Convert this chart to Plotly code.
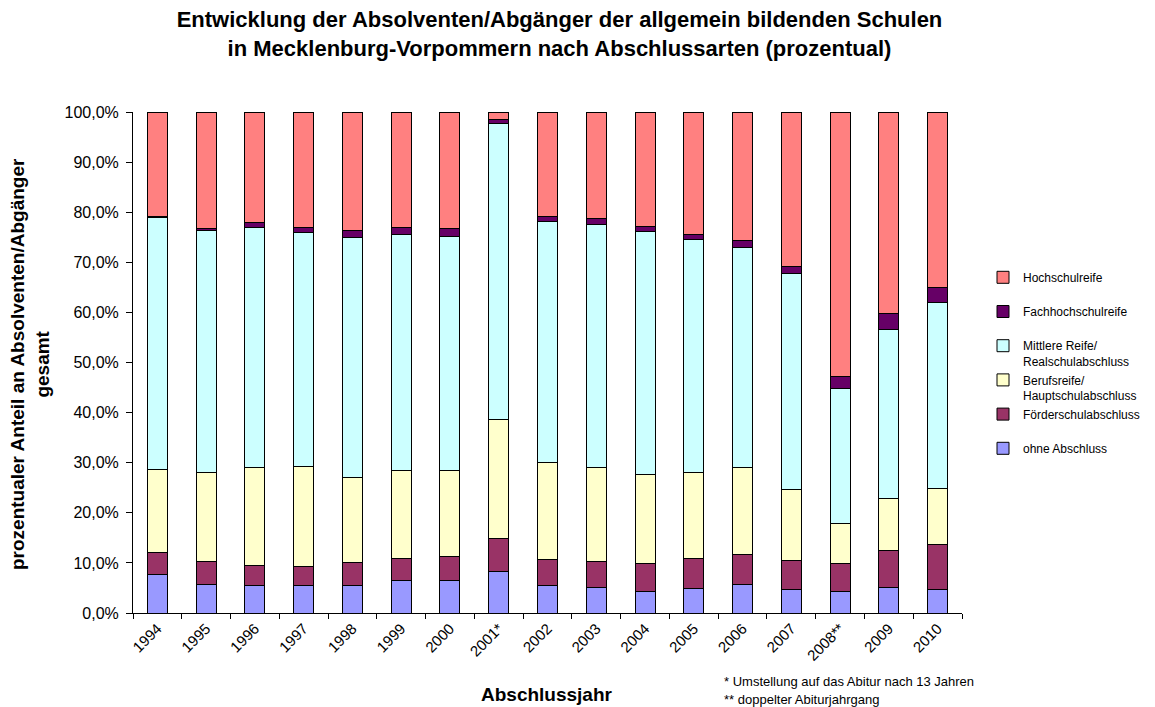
import plotly.graph_objects as go

# ─────────────────────────────────────────────────────────────────────────────
# DATA (Anteile in %)
# ─────────────────────────────────────────────────────────────────────────────

years = ['1994', '1995', '1996', '1997', '1998', '1999', '2000', '2001*', '2002',
         '2003', '2004', '2005', '2006', '2007', '2008**', '2009', '2010']

ohne_abschluss = [7.7, 5.7, 5.5, 5.5, 5.5, 6.5, 6.5, 8.3, 5.5,
                  5.1, 4.2, 4.8, 5.6, 4.7, 4.3, 5.0, 4.6]
foerderschule = [4.3, 4.6, 4.0, 3.8, 4.5, 4.4, 4.8, 6.5, 5.2,
                 5.2, 5.7, 6.0, 6.1, 5.8, 5.6, 7.4, 9.1]
berufsreife = [16.6, 17.8, 19.5, 20.0, 17.0, 17.6, 17.2, 23.9, 19.4,
               18.8, 17.8, 17.3, 17.4, 14.2, 7.9, 10.5, 11.2]
mittlere_reife = [50.4, 48.3, 47.9, 46.7, 48.0, 47.1, 46.6, 59.0, 48.0,
                  48.4, 48.4, 46.4, 43.8, 43.0, 27.1, 33.6, 37.0]
fachhochschulreife = [0.1, 0.4, 1.0, 1.0, 1.3, 1.4, 1.7, 0.8, 1.0,
                      1.2, 1.0, 1.1, 1.4, 1.4, 2.4, 3.3, 3.1]
hochschulreife = [20.9, 23.2, 22.1, 23.0, 23.7, 23.0, 23.2, 1.5, 20.9,
                  21.3, 22.9, 24.4, 25.7, 30.9, 52.7, 40.2, 35.0]

# legend labels: every entry takes two lines, like the Excel legend
series = [
    ('ohne Abschluss<br>\u00a0', ohne_abschluss, '#9999FF'),
    ('Förderschulabschluss<br>\u00a0', foerderschule, '#993366'),
    ('Berufsreife/<br>Hauptschulabschluss', berufsreife, '#FFFFCC'),
    ('Mittlere Reife/<br>Realschulabschluss', mittlere_reife, '#CCFFFF'),
    ('Fachhochschulreife<br>\u00a0', fachhochschulreife, '#660066'),
    ('Hochschulreife<br>\u00a0', hochschulreife, '#FF8080'),
]

FONT = 'Arial, Liberation Sans, sans-serif'

# the page body has an 8px margin, so the figure is 8px smaller than the window
W, H = 1147, 699

fig = go.Figure()
for name, vals, color in series:
    fig.add_trace(go.Bar(
        name=name, x=years, y=vals,
        marker=dict(color=color, line=dict(color='black', width=1)),
    ))

fig.update_layout(
    barmode='stack',
    bargap=0.59,
    width=W, height=H,
    paper_bgcolor='white', plot_bgcolor='white',
    separators=',.',
    font=dict(family=FONT, size=13, color='black'),
    margin=dict(l=125, r=193, t=104, b=94),
    title=dict(
        text='Entwicklung der Absolventen/Abgänger der allgemein bildenden Schulen<br>'
             'in Mecklenburg-Vorpommern nach Abschlussarten (prozentual)',
        font=dict(family=FONT, size=22, color='black', weight='bold'),
        xref='container', x=551.5 / W, xanchor='center',
        yref='container', y=1 - 19 / H, yanchor='middle',
    ),
    legend=dict(
        traceorder='reversed',
        xref='container', x=975 / W, xanchor='left',
        yref='container', y=1 - 255 / H, yanchor='top',
        valign='top',
        font=dict(family=FONT, size=12, color='black'),
        itemwidth=30,
    ),
    showlegend=True,
)

fig.update_yaxes(
    range=[0, 100], dtick=10,
    tickformat='.1f', ticksuffix='%',
    showgrid=False, zeroline=False,
    showline=True, linecolor='black', linewidth=1,
    ticks='outside', ticklen=6, tickcolor='black',
    ticklabelstandoff=4,
    tickfont=dict(size=16),
)
fig.update_xaxes(
    showgrid=False,
    showline=True, linecolor='black', linewidth=1,
    ticks='outside', ticklen=5, tickcolor='black', tickson='boundaries',
    tickangle=-45, tickfont=dict(size=15),
)

# Achsentitel und Fußnoten
fig.add_annotation(
    text='prozentualer Anteil an Absolventen/Abgänger<br>gesamt',
    textangle=-90, showarrow=False,
    xref='paper', yref='paper', x=(30 - 133) / 829, y=(613 - 364) / 501,
    xanchor='center', yanchor='middle',
    font=dict(family=FONT, size=19, color='black', weight='bold'),
)
fig.add_annotation(
    text='Abschlussjahr', showarrow=False,
    xref='paper', yref='paper', x=(547 - 133) / 829, y=(613 - 695) / 501,
    xanchor='center', yanchor='middle',
    font=dict(family=FONT, size=19, color='black', weight='bold'),
)
fig.add_annotation(
    text='* Umstellung auf das Abitur nach 13 Jahren', showarrow=False,
    xref='paper', yref='paper', x=(722 - 133) / 829, y=(613 - 681) / 501,
    xanchor='left', yanchor='middle',
    font=dict(family=FONT, size=13, color='black'),
)
fig.add_annotation(
    text='** doppelter Abiturjahrgang', showarrow=False,
    xref='paper', yref='paper', x=(722 - 133) / 829, y=(613 - 699) / 501,
    xanchor='left', yanchor='middle',
    font=dict(family=FONT, size=13, color='black'),
)

fig.write_html('out.html')
